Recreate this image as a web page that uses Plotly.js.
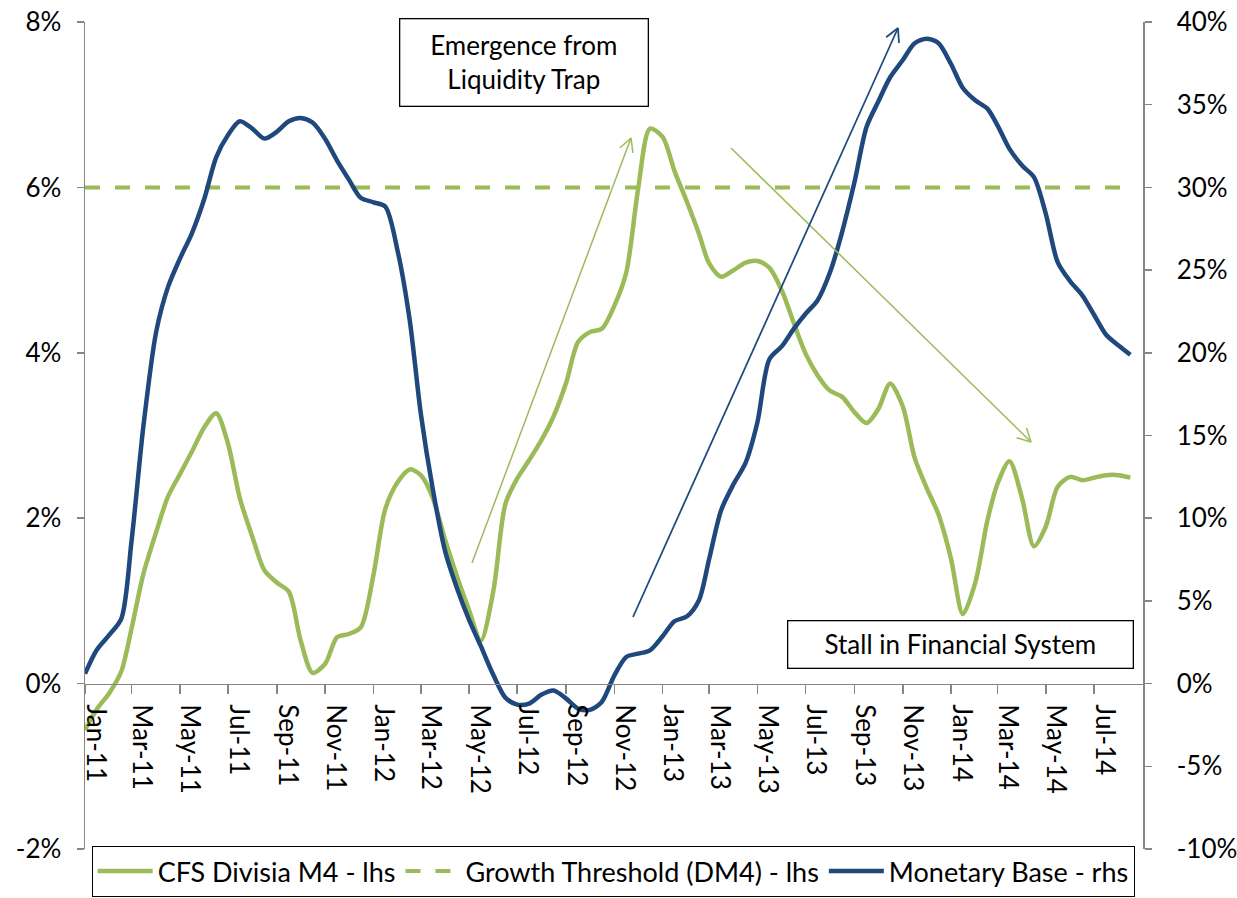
<!DOCTYPE html>
<html>
<head>
<meta charset="utf-8">
<script src="https://cdn.plot.ly/plotly-3.0.1.min.js"></script>
<style>html,body{margin:0;padding:0;background:#fff;}#chart{width:1237px;height:898px;}</style>
</head>
<body>
<div id="chart"></div>
<script>
// ---- data (half-monthly readings from the reference) ----
const dates = [
"2011-01-01","2011-01-16","2011-02-01","2011-02-16","2011-03-01","2011-03-16","2011-04-01","2011-04-16","2011-05-01","2011-05-16","2011-06-01","2011-06-16",
"2011-07-01","2011-07-16","2011-08-01","2011-08-16","2011-09-01","2011-09-16","2011-10-01","2011-10-16","2011-11-01","2011-11-16","2011-12-01","2011-12-16",
"2012-01-01","2012-01-16","2012-02-01","2012-02-16","2012-03-01","2012-03-16","2012-04-01","2012-04-16","2012-05-01","2012-05-16","2012-06-01","2012-06-16",
"2012-07-01","2012-07-16","2012-08-01","2012-08-16","2012-09-01","2012-09-16","2012-10-01","2012-10-16","2012-11-01","2012-11-16","2012-12-01","2012-12-16",
"2013-01-01","2013-01-16","2013-02-01","2013-02-16","2013-03-01","2013-03-16","2013-04-01","2013-04-16","2013-05-01","2013-05-16","2013-06-01","2013-06-16",
"2013-07-01","2013-07-16","2013-08-01","2013-08-16","2013-09-01","2013-09-16","2013-10-01","2013-10-16","2013-11-01","2013-11-16","2013-12-01","2013-12-16",
"2014-01-01","2014-01-16","2014-02-01","2014-02-16","2014-03-01","2014-03-16","2014-04-01","2014-04-16","2014-05-01","2014-05-16","2014-06-01","2014-06-16",
"2014-07-01","2014-07-16","2014-08-01","2014-08-16"
];
// CFS Divisia M4 growth (%, left axis)
const divisiaM4 = [
-0.56,-0.31,-0.11,0.15,0.67,1.33,1.83,2.26,2.53,2.80,3.10,3.27,
2.90,2.24,1.77,1.37,1.22,1.11,0.52,0.13,0.24,0.56,0.60,0.68,
1.31,2.11,2.44,2.59,2.52,2.25,1.73,1.29,0.89,0.52,1.13,2.17,
2.48,2.70,2.95,3.23,3.64,4.13,4.25,4.29,4.57,4.97,5.98,6.71,
6.61,6.20,5.82,5.44,5.08,4.92,5.00,5.09,5.11,5.03,4.75,4.36,
3.99,3.73,3.54,3.47,3.28,3.15,3.32,3.63,3.35,2.73,2.37,2.05,
1.51,0.84,1.23,1.97,2.42,2.69,2.24,1.66,1.90,2.38,2.50,2.46,
2.49,2.52,2.52,2.49
];
// Monetary base growth (%, right axis)
const monetaryBase = [
0.60,2.05,2.96,3.93,8.66,15.6,21.25,23.97,25.68,27.19,29.31,31.82,
33.17,34.0,33.54,32.95,33.37,34.0,34.2,33.92,32.93,31.62,30.47,29.37,
29.10,28.84,26.08,21.96,16.32,11.8,7.96,5.74,3.87,2.26,0.50,-0.85,
-1.27,-1.21,-0.66,-0.42,-0.91,-1.51,-1.59,-1.11,0.50,1.61,1.81,2.01,
2.86,3.77,4.07,5.04,7.55,10.47,12.08,13.35,15.8,19.6,20.4,21.45,
22.36,23.16,24.88,27.27,30.35,33.64,35.19,36.66,37.70,38.71,38.99,38.73,
37.46,36.01,35.25,34.76,33.74,32.33,31.32,30.62,28.40,25.48,24.31,23.49,
22.30,21.11,20.44,19.88
];
// Growth threshold (DM4), constant (% left axis)
const thresholdDates = ["2011-01-01","2014-08-16"];
const thresholdValues = [6, 6];

const seriesNames = ["CFS Divisia M4 - lhs","Growth Threshold (DM4) - lhs","Monetary Base - rhs"];

const xTickDates = ["2011-01-01","2011-03-01","2011-05-01","2011-07-01","2011-09-01","2011-11-01",
"2012-01-01","2012-03-01","2012-05-01","2012-07-01","2012-09-01","2012-11-01",
"2013-01-01","2013-03-01","2013-05-01","2013-07-01","2013-09-01","2013-11-01",
"2014-01-01","2014-03-01","2014-05-01","2014-07-01"];
const xTickLabels = ["Jan-11","Mar-11","May-11","Jul-11","Sep-11","Nov-11",
"Jan-12","Mar-12","May-12","Jul-12","Sep-12","Nov-12",
"Jan-13","Mar-13","May-13","Jul-13","Sep-13","Nov-13",
"Jan-14","Mar-14","May-14","Jul-14"];
const leftTickVals = [-2,0,2,4,6,8];
const leftTickLabels = ["-2%","0%","2%","4%","6%","8%"];
const rightTickVals = [-10,-5,0,5,10,15,20,25,30,35,40];
const rightTickLabels = ["-10%","-5%","0%","5%","10%","15%","20%","25%","30%","35%","40%"];

const annotationTexts = ["Emergence from<br>Liquidity Trap","Stall in Financial System"];

// ---- styling ----
const GREEN = "#9BBB59", BLUE = "#1F497D", AXIS = "#868686";
const FONT = "Lato, 'Open Sans', sans-serif";
const M = {l:85, r:94, t:22, b:49, autoexpand:false};
const W = 1237 - M.l - M.r, H = 898 - M.t - M.b;
function P(px, py){ return [(px - M.l)/W, (M.t + H - py)/H]; }

function arrowShapes(tail, tip, color, width){
  const out = [];
  const a = P(tail[0], tail[1]), b = P(tip[0], tip[1]);
  out.push({type:"line", xref:"paper", yref:"paper", x0:a[0], y0:a[1], x1:b[0], y1:b[1], line:{color:color, width:width}});
  const dx = tail[0]-tip[0], dy = tail[1]-tip[1], len = Math.hypot(dx,dy);
  const ux = dx/len, uy = dy/len, ang = 28*Math.PI/180, L = 15;
  [ang,-ang].forEach(t=>{
    const rx = ux*Math.cos(t) - uy*Math.sin(t), ry = ux*Math.sin(t) + uy*Math.cos(t);
    const e = P(tip[0]+rx*L, tip[1]+ry*L);
    out.push({type:"line", xref:"paper", yref:"paper", x0:e[0], y0:e[1], x1:b[0], y1:b[1], line:{color:color, width:width}});
  });
  return out;
}

const shapes = [].concat(
  arrowShapes([472,563],[631,138],GREEN,1.5),
  arrowShapes([731,148],[1031,442],GREEN,1.5),
  arrowShapes([633,617],[898,28],BLUE,1.75)
);

const traces = [
  {x:dates, y:divisiaM4, name:seriesNames[0], type:"scatter", mode:"lines",
   line:{color:GREEN, width:4.5, shape:"spline", smoothing:0.8}, yaxis:"y"},
  {x:thresholdDates, y:thresholdValues, name:seriesNames[1], type:"scatter", mode:"lines",
   line:{color:GREEN, width:4, dash:"15px,15px"}, yaxis:"y"},
  {x:dates, y:monetaryBase, name:seriesNames[2], type:"scatter", mode:"lines",
   line:{color:BLUE, width:4.5, shape:"spline", smoothing:0.8}, yaxis:"y2"}
];

const tickFont = {family:FONT, size:26, color:"#000"};
const layout = {
  width:1237, height:898,
  margin:M,
  paper_bgcolor:"#fff", plot_bgcolor:"#fff",
  showlegend:true,
  hovermode:false,
  font:{family:FONT, color:"#000"},
  xaxis:{type:"date", range:["2011-01-01","2014-09-01"], anchor:"free", position:0.2,
    tickmode:"array", tickvals:xTickDates, ticktext:xTickLabels, tickangle:90,
    ticks:"outside", ticklen:9, tickwidth:1.5, tickcolor:AXIS,
    showline:true, linecolor:AXIS, linewidth:1.5, showgrid:false, zeroline:false,
    tickfont:tickFont, ticklabelshift:10, ticklabelstandoff:5, automargin:false},
  yaxis:{range:[-2,8], tickmode:"array", tickvals:leftTickVals, ticktext:leftTickLabels,
    ticks:"outside", ticklen:7, tickwidth:1.5, tickcolor:AXIS,
    showline:true, linecolor:AXIS, linewidth:1.5, showgrid:false, zeroline:false,
    tickfont:tickFont, ticklabelstandoff:10, automargin:false},
  yaxis2:{range:[-10,40], overlaying:"y", side:"right", tickmode:"array", tickvals:rightTickVals, ticktext:rightTickLabels,
    ticks:"outside", ticklen:7, tickwidth:1.5, tickcolor:AXIS,
    showline:true, linecolor:AXIS, linewidth:1.5, showgrid:false, zeroline:false,
    tickfont:tickFont, ticklabelstandoff:20, automargin:false},
  legend:{orientation:"h", x:0.0063, xanchor:"left", y:0.0036, yanchor:"top",
    bgcolor:"#fff", bordercolor:"#000", borderwidth:1,
    font:{family:FONT, size:27, color:"#000"}, itemwidth:55},
  shapes:shapes,
  annotations:[
    {text:annotationTexts[0], xref:"paper", yref:"paper", x:0.4151, y:0.951, xanchor:"center", yanchor:"middle",
     showarrow:false, width:247, height:86, borderpad:0, bordercolor:"#000", borderwidth:1.3, bgcolor:"#fff",
     font:{family:FONT, size:26, color:"#000"}},
    {text:annotationTexts[1], xref:"paper", yref:"paper", x:0.8273, y:0.2473, xanchor:"center", yanchor:"middle",
     showarrow:false, width:344, height:46, borderpad:0, bordercolor:"#000", borderwidth:1.3, bgcolor:"#fff",
     font:{family:FONT, size:26, color:"#000"}}
  ]
};

Plotly.newPlot("chart", traces, layout, {displayModeBar:false, staticPlot:true});
</script>
</body>
</html>
